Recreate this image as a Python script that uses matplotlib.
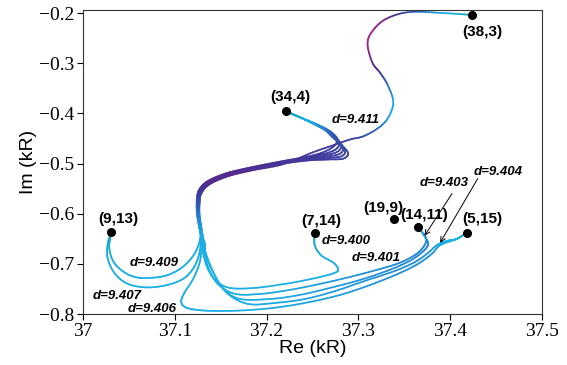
import matplotlib.pyplot as plt
import numpy as np
from matplotlib.collections import LineCollection
from matplotlib.colors import LinearSegmentedColormap

plt.rcParams['font.family'] = 'serif'
plt.rcParams['font.serif'] = ['Liberation Serif', 'DejaVu Serif']

# labelled points (Re, Im) in kR
pt_labels = ['(38,3)', '(34,4)', '(9,13)', '(7,14)', '(19,9)', '(14,11)', '(5,15)']
pt_re = [37.424, 37.221, 37.031, 37.253, 37.339, 37.365, 37.418]
pt_im = [-0.204, -0.396, -0.636, -0.638, -0.610, -0.626, -0.638]

# curve starting at (38,3), down to the bundle
head38_re = [37.424, 37.392, 37.356, 37.332, 37.318, 37.310, 37.315, 37.324, 37.332,
             37.338, 37.332, 37.321, 37.305, 37.291, 37.272, 37.250]
head38_im = [-0.204, -0.200, -0.198, -0.210, -0.230, -0.258, -0.298, -0.320, -0.344,
             -0.378, -0.410, -0.430, -0.446, -0.452, -0.464, -0.478]
head38_c = [0.0, 0.15, 0.6, 0.92, 1.0, 1.0, 0.92, 0.75, 0.45, 0.18, 0.22, 0.45, 0.62,
            0.7, 0.72, 0.75]

# loops leaving (34,4), one per curve
heads34_re = [
    [37.221, 37.234, 37.250, 37.264, 37.272, 37.277, 37.273, 37.261, 37.245],
    [37.221, 37.234, 37.250, 37.264, 37.272, 37.279, 37.276, 37.263, 37.245],
    [37.221, 37.234, 37.250, 37.264, 37.272, 37.281, 37.278, 37.264, 37.245],
    [37.221, 37.234, 37.250, 37.264, 37.272, 37.283, 37.280, 37.265, 37.245],
    [37.221, 37.234, 37.250, 37.264, 37.272, 37.285, 37.282, 37.266, 37.245],
    [37.221, 37.234, 37.250, 37.264, 37.272, 37.288, 37.284, 37.267, 37.245],
]
heads34_im = [
    [-0.396, -0.406, -0.4180, -0.4300, -0.4400, -0.4520, -0.4660, -0.4780, -0.4860],
    [-0.396, -0.406, -0.4184, -0.4308, -0.4416, -0.4568, -0.4708, -0.4808, -0.4876],
    [-0.396, -0.406, -0.4188, -0.4316, -0.4432, -0.4616, -0.4756, -0.4836, -0.4892],
    [-0.396, -0.406, -0.4192, -0.4324, -0.4448, -0.4664, -0.4804, -0.4864, -0.4908],
    [-0.396, -0.406, -0.4196, -0.4332, -0.4464, -0.4712, -0.4852, -0.4892, -0.4924],
    [-0.396, -0.406, -0.4200, -0.4340, -0.4480, -0.4760, -0.4900, -0.4920, -0.4940],
]
head34_c = [0.0, 0.1, 0.2, 0.4, 0.55, 0.65, 0.7, 0.72, 0.75]

# common path of the bundle
trunk_re = [37.215, 37.182, 37.155, 37.135, 37.126, 37.124, 37.124, 37.126, 37.128]
trunk_im = [-0.496, -0.508, -0.520, -0.536, -0.554, -0.574, -0.598, -0.622, -0.644]
trunk_c = [0.78, 0.84, 0.88, 0.86, 0.76, 0.6, 0.4, 0.25, 0.18]

# tails: where each curve ends
tail_re = {
    'A': [37.126, 37.120, 37.110, 37.098, 37.084, 37.062, 37.046, 37.034, 37.029, 37.029, 37.031],
    'B': [37.128, 37.125, 37.119, 37.109, 37.092, 37.070, 37.049, 37.035, 37.027, 37.027, 37.031],
    'C': [37.129, 37.127, 37.120, 37.111, 37.107, 37.111, 37.125, 37.149, 37.182, 37.215, 37.247,
          37.280, 37.313, 37.343, 37.365, 37.380, 37.388, 37.398, 37.408, 37.418],
    'D': [37.130, 37.131, 37.136, 37.145, 37.160, 37.187, 37.220, 37.249, 37.271, 37.278, 37.273,
          37.260, 37.253, 37.252, 37.253],
    'E': [37.131, 37.132, 37.138, 37.148, 37.166, 37.193, 37.225, 37.258, 37.291, 37.324, 37.345,
          37.362, 37.371, 37.374, 37.368, 37.365],
    'F': [37.132, 37.133, 37.142, 37.153, 37.171, 37.204, 37.236, 37.269, 37.302, 37.334, 37.356,
          37.370, 37.376, 37.371, 37.365],
    'G': [37.133, 37.134, 37.144, 37.158, 37.180, 37.209, 37.242, 37.275, 37.307, 37.340, 37.362,
          37.376, 37.386, 37.397, 37.407, 37.418],
}
tail_im = {
    'A': [-0.662, -0.684, -0.704, -0.718, -0.726, -0.728, -0.718, -0.698, -0.674, -0.654, -0.636],
    'B': [-0.666, -0.690, -0.712, -0.730, -0.742, -0.747, -0.740, -0.720, -0.690, -0.660, -0.636],
    'C': [-0.668, -0.698, -0.730, -0.756, -0.774, -0.786, -0.792, -0.794, -0.792, -0.786, -0.776,
          -0.762, -0.742, -0.720, -0.700, -0.680, -0.664, -0.656, -0.650, -0.638],
    'D': [-0.662, -0.680, -0.710, -0.734, -0.748, -0.748, -0.740, -0.730, -0.720, -0.712, -0.698,
          -0.684, -0.666, -0.650, -0.638],
    'E': [-0.662, -0.680, -0.714, -0.742, -0.760, -0.760, -0.752, -0.740, -0.726, -0.710, -0.698,
          -0.682, -0.666, -0.650, -0.634, -0.626],
    'F': [-0.662, -0.680, -0.718, -0.750, -0.770, -0.770, -0.762, -0.748, -0.732, -0.712, -0.694,
          -0.676, -0.660, -0.642, -0.626],
    'G': [-0.662, -0.680, -0.724, -0.760, -0.780, -0.778, -0.770, -0.754, -0.734, -0.714, -0.696,
          -0.678, -0.662, -0.654, -0.650, -0.638],
}
tail_c = {
    'A': [0.16, 0.16, 0.15, 0.15, 0.15, 0.15, 0.15, 0.15, 0.14, 0.08, 0.02],
    'B': [0.16, 0.16, 0.15, 0.15, 0.15, 0.15, 0.15, 0.15, 0.14, 0.08, 0.02],
    'C': [0.16, 0.16, 0.15, 0.15, 0.15, 0.15, 0.15, 0.15, 0.16, 0.18, 0.2, 0.24, 0.28, 0.3,
          0.3, 0.28, 0.2, 0.15, 0.15, 0.1],
    'D': [0.16, 0.16, 0.15, 0.15, 0.15, 0.15, 0.15, 0.15, 0.15, 0.15, 0.15, 0.15, 0.12, 0.06, 0.02],
    'E': [0.16, 0.16, 0.15, 0.15, 0.16, 0.18, 0.2, 0.24, 0.28, 0.32, 0.34, 0.35, 0.34, 0.3, 0.22, 0.15],
    'F': [0.16, 0.16, 0.15, 0.15, 0.16, 0.18, 0.2, 0.24, 0.28, 0.32, 0.34, 0.35, 0.34, 0.25, 0.15],
    'G': [0.16, 0.16, 0.15, 0.15, 0.16, 0.18, 0.2, 0.24, 0.28, 0.3, 0.3, 0.28, 0.2, 0.15, 0.15, 0.1],
}
# which loop from (34,4) feeds each tail ('G' comes from (38,3))
tail_head = {'A': 0, 'B': 1, 'C': 2, 'D': 3, 'E': 4, 'F': 5, 'G': None}
tail_order = ['A', 'B', 'C', 'D', 'E', 'F', 'G']

d_labels = ['d=9.411', 'd=9.409', 'd=9.407', 'd=9.406', 'd=9.400', 'd=9.401',
            'd=9.403', 'd=9.404']
d_re = [37.271, 37.051, 37.011, 37.049, 37.260, 37.293, 37.367, 37.425]
d_im = [-0.414, -0.698, -0.764, -0.790, -0.654, -0.688, -0.538, -0.516]

cmap = LinearSegmentedColormap.from_list('path', [
    (0.0, '#10a2aa'), (0.15, '#1bb0e8'), (0.35, '#2585d6'), (0.55, '#3259b4'),
    (0.75, '#41399c'), (0.88, '#552a8e'), (1.0, '#a3218c')])


def smooth(x, y, c, n=12):
    # Catmull-Rom pass through the read points, only for a smooth stroke
    p = np.column_stack([x, y])
    p = np.vstack([p[0], p, p[-1]])
    cc = np.concatenate([[c[0]], c, [c[-1]]])
    xs, ys, cs = [], [], []
    t = np.linspace(0, 1, n, endpoint=False)[:, None]
    for i in range(1, len(p) - 2):
        p0, p1, p2, p3 = p[i - 1], p[i], p[i + 1], p[i + 2]
        pts = 0.5 * ((2 * p1) + (-p0 + p2) * t
                     + (2 * p0 - 5 * p1 + 4 * p2 - p3) * t ** 2
                     + (-p0 + 3 * p1 - 3 * p2 + p3) * t ** 3)
        xs.append(pts[:, 0])
        ys.append(pts[:, 1])
        cs.append(cc[i] + (cc[i + 1] - cc[i]) * t[:, 0])
    xs.append([p[-2, 0]])
    ys.append([p[-2, 1]])
    cs.append([cc[-2]])
    return np.concatenate(xs), np.concatenate(ys), np.concatenate(cs)


fig = plt.figure(figsize=(5.67, 3.65), dpi=100)
ax = fig.add_axes([0.1464, 0.1397, 0.8095, 0.8329])

for k, name in enumerate(tail_order):
    h = tail_head[name]
    if h is None:
        hx, hy, hc = head38_re, head38_im, head38_c
    else:
        hx, hy, hc = heads34_re[h], heads34_im[h], head34_c
    # strands in the bundle sit side by side
    tx = [v + k * 0.0005 for v in trunk_re]
    ty = [v - k * 0.0009 for v in trunk_im]
    x = list(hx) + tx + tail_re[name]
    y = list(hy) + ty + tail_im[name]
    c = list(hc) + trunk_c + tail_c[name]
    xs, ys, cs = smooth(x, y, c)
    pts = np.column_stack([xs, ys]).reshape(-1, 1, 2)
    segs = np.concatenate([pts[:-1], pts[1:]], axis=1)
    lc = LineCollection(segs, colors=cmap(0.5 * (cs[:-1] + cs[1:])), linewidths=1.2,
                        capstyle='round', joinstyle='round', zorder=2)
    ax.add_collection(lc)

ax.plot(pt_re, pt_im, 'o', color='k', ms=5.5, zorder=5)

lab_pos = [(37.435, -0.238), (37.226, -0.368), (37.038, -0.610), (37.259, -0.614),
           (37.327, -0.588), (37.372, -0.602), (37.435, -0.610)]
for s, (lx, ly) in zip(pt_labels, lab_pos):
    ax.text(lx, ly, s, ha='center', va='center', fontsize=11, fontweight='bold',
            family='Liberation Sans', zorder=6)

for s, lx, ly in zip(d_labels, d_re, d_im):
    ax.text(lx, ly, s, ha='left', va='center', fontsize=9.5, fontweight='bold',
            style='italic', family='Liberation Sans', zorder=6)

arr = dict(arrowstyle='->', lw=0.7, color='k', shrinkA=0, shrinkB=0, mutation_scale=9)
ax.annotate('', xy=(37.372, -0.644), xytext=(37.402, -0.560), arrowprops=arr)
ax.annotate('', xy=(37.389, -0.658), xytext=(37.430, -0.530), arrowprops=arr)

ax.set_xlim(37, 37.5)
ax.set_ylim(-0.8, -0.194)
ax.set_xticks([37, 37.1, 37.2, 37.3, 37.4, 37.5])
ax.set_xticklabels(['37', '37.1', '37.2', '37.3', '37.4', '37.5'])
ax.set_yticks([-0.8, -0.7, -0.6, -0.5, -0.4, -0.3, -0.2])
ax.tick_params(direction='out', length=4.5, width=0.8, labelsize=14, pad=2,
               top=False, right=False)
for sp in ax.spines.values():
    sp.set_linewidth(0.8)
    sp.set_color('#333333')

ax.set_xlabel('Re (kR)', fontsize=14, family='Liberation Sans', labelpad=0)
ax.set_ylabel('Im (kR)', fontsize=14, family='Liberation Sans', labelpad=1)

fig.savefig('out.png', dpi=100)
